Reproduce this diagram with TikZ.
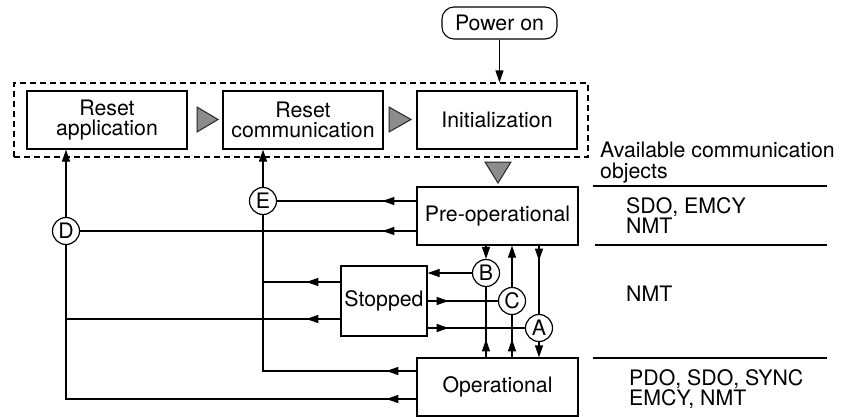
\documentclass[tikz,border=0pt]{standalone}
\usepackage{fontspec}
\setmainfont{TeX Gyre Heros}
\usetikzlibrary{arrows.meta,decorations.markings}
\begin{document}
\begin{tikzpicture}[x=1pt,y=-1pt,
  every node/.style={font=\fontsize{21.3}{20.5}\selectfont},
  box/.style={draw,line width=1.3pt,inner sep=0pt,minimum width=160pt,minimum height=58pt,align=center},
  circ/.style={draw,circle,line width=1.2pt,minimum size=27pt,inner sep=0pt},
  conn/.style={line width=1.3pt},
  tip/.style={-{Triangle[length=12pt,width=8pt]}},
  arrat/.style={postaction={decorate},decoration={markings,mark=at position #1 with {\arrow{Triangle[length=12pt,width=8pt]}}}},
  gtri/.style={fill={rgb,255:red,140;green,140;blue,140},draw=black!85,line width=1pt,line join=miter},
  txt/.style={anchor=north west,inner sep=0pt,align=left},
  rule/.style={line width=1.3pt}
]
\useasboundingbox (0,0) rectangle (851,417);

% group and boxes
\node[draw,dashed,dash pattern=on 6pt off 4pt,line width=1.1pt,minimum width=574pt,minimum height=74pt,inner sep=0pt] (grp) at (301,120) {};
\node[box] (resapp) at (107,120) {Reset\\application};
\node[box] (rescom) at (303,120) {Reset\\communication};
\node[box] (init) at (497,120) {Initialization};
\node[draw,rounded corners=12pt,line width=1.1pt,minimum width=115pt,minimum height=32pt,inner sep=0pt] (poweron) at (499.5,23) {Power on};
\node[box,minimum width=161pt] (preop) at (497.5,216) {Pre-operational};
\node[box,minimum width=161pt] (oper) at (497.5,387) {Operational};
\node[box,minimum width=86pt,minimum height=70pt] (stopped) at (384,301) {Stopped};

% circles
\node[circ] (A) at (539,328) {A};
\node[circ] (B) at (486,273) {B};
\node[circ] (C) at (512,301) {C};
\node[circ] (D) at (66,231) {D};
\node[circ] (E) at (263,201) {E};

% gray triangles
\path[gtri] (197,107) -- (218,119.5) -- (197,132) -- cycle;
\path[gtri] (389,107) -- (411,119.5) -- (389,132) -- cycle;
\path[gtri] (485,162) -- (511,162) -- (498,183) -- cycle;

% power on
\draw[conn,tip] (poweron.south) -- (poweron.south |- grp.north);

% pre-operational to E and D
\draw[conn,arrat=34pt] (preop.west |- E) -- (E.east);
\draw[conn,arrat=34pt] (preop.west |- D) -- (D.east);
\draw[conn,tip] (E.north) -- (E |- rescom.south);
\draw[conn,tip] (D.north) -- (D |- resapp.south);

% operational to E and D
\coordinate (opE) at ([yshift=16pt]oper.west);
\coordinate (opD) at ([yshift=-12pt]oper.west);
\draw[conn,arrat=30pt] (opE) -| (E.south);
\draw[conn,arrat=30pt] (opD) -| (D.south);

% stopped to E and D lines
\coordinate (sE) at ([yshift=19pt]stopped.west);
\coordinate (sD) at ([yshift=-18pt]stopped.west);
\draw[conn,arrat=34pt] (sE) -- (sE -| E);
\draw[conn,arrat=34pt] (sD) -- (sD -| D);

% B
\draw[conn,tip] (B |- preop.south) -- (B.north);
\draw[conn,tip] (B.west) -- (B -| stopped.east);
\draw[conn,arrat=18pt] (B |- oper.north) -- (B.south);

% C
\draw[conn,arrat=21pt] (stopped.east |- C) -- (C.west);
\draw[conn,tip] (C.north) -- (C |- preop.south);
\draw[conn,arrat=18pt] (C |- oper.north) -- (C.south);

% A
\draw[conn,arrat=15pt] (A |- preop.south) -- (A.north);
\draw[conn,arrat=21pt] (stopped.east |- A) -- (A.west);
\draw[conn,tip] (A.south) -- (A |- oper.north);

% right side
\node[txt] (avail) at (600,142) {Available communication\\objects};
\draw[rule] (593,186) -- (827,186);
\node[txt] (objpre) at (626,197) {SDO, EMCY\\NMT};
\draw[rule] (595,245) -- (827,245);
\node[txt] (objstop) at (626,286) {NMT};
\draw[rule] (593,358) -- (827,358);
\node[txt] (objop) at (629,369) {PDO, SDO, SYNC\\EMCY, NMT};
\end{tikzpicture}
\end{document}
